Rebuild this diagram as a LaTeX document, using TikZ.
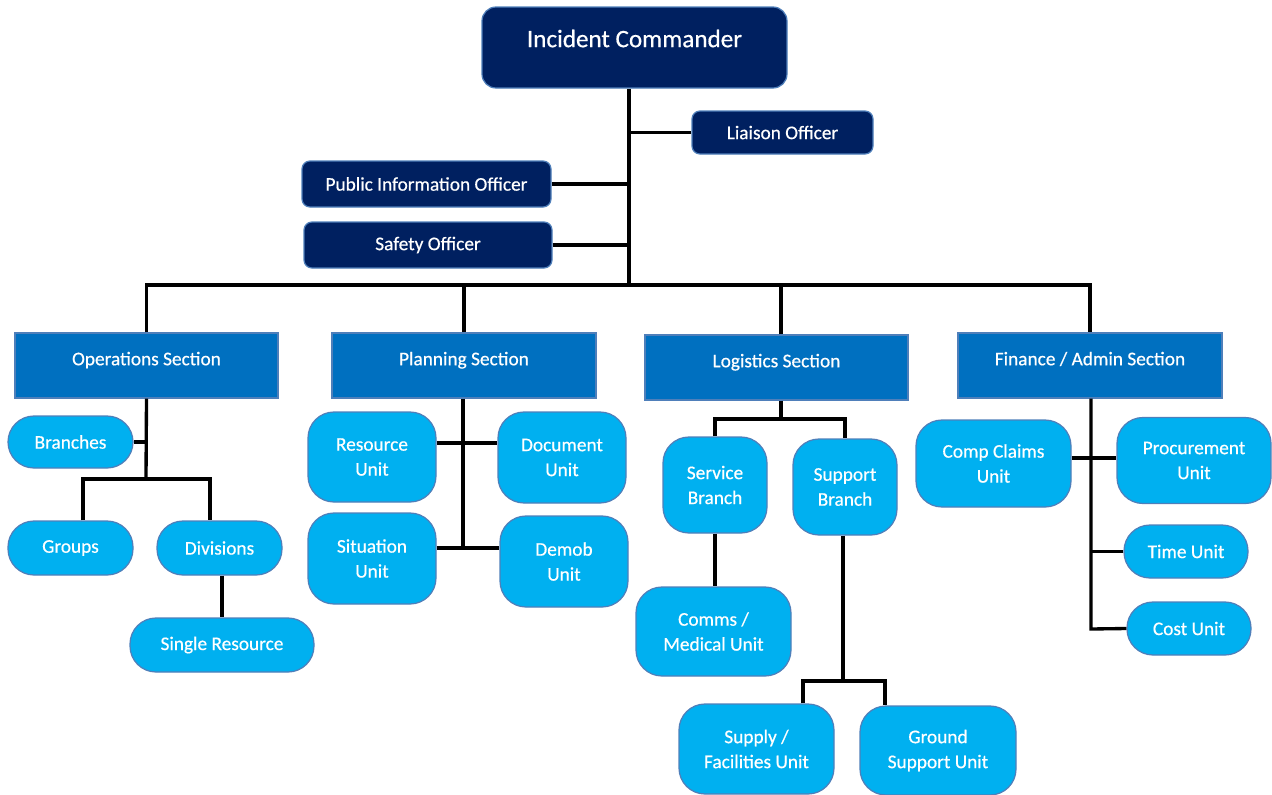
\documentclass[tikz,border=0pt]{standalone}
\usepackage{fontspec}
\setmainfont{Carlito}[FakeBold=0.5]
\definecolor{navy}{HTML}{002060}
\definecolor{secblue}{HTML}{0070C0}
\definecolor{unitblue}{HTML}{00B0F0}
\definecolor{edgecol}{HTML}{4F7FBA}
\begin{document}
\begin{tikzpicture}[x=0.02cm,y=-0.02cm,
  sz/.style 2 args={minimum width=#1*0.02cm, minimum height=#2*0.02cm},
  base/.style={inner sep=0pt, text=white, draw=edgecol, line width=0.7pt, align=center, font=\fontsize{11}{14.2}\selectfont},
  chief/.style={base, fill=navy, rounded corners=0.28cm, font=\fontsize{14.3}{17}\selectfont, text height=11pt, text depth=11.4pt},
  officer/.style={base, fill=navy, rounded corners=0.16cm},
  section/.style={base, fill=secblue, text height=8pt, text depth=8.3pt},
  unit/.style={base, fill=unitblue, rounded corners=0.52cm},
  link/.style={draw=black, line width=1.9pt}]
\useasboundingbox (0,0) rectangle (1272,795);

% nodes
\node[chief, sz={305}{81}] (ic) at (634.5,47.5) {Incident Commander};
\node[officer, sz={181}{43}] (liaison) at (782.5,132.5) {Liaison Officer};
\node[officer, sz={249}{46}] (pio) at (426.5,184) {Public Information Officer};
\node[officer, sz={248}{46}] (safety) at (428,245) {Safety Officer};

\node[section, sz={263}{65}] (ops) at (146.5,365.5) {Operations Section};
\node[section, sz={264}{65}] (plan) at (464,365.5) {Planning Section};
\node[section, sz={263}{65}] (log) at (776.5,367.5) {Logistics Section};
\node[section, sz={264}{65}] (fin) at (1090,365.5) {Finance / Admin Section};

\node[unit, sz={125}{52}] (branches) at (70.5,442) {Branches};
\node[unit, sz={125}{54}] (groups) at (70.5,548) {Groups};
\node[unit, sz={125}{54}] (divisions) at (219.5,548) {Divisions};
\node[unit, sz={184}{54}] (single) at (222,645) {Single Resource};

\node[unit, sz={128}{90}] (resource) at (372,457) {Resource\\Unit};
\node[unit, sz={128}{91}] (document) at (562,457.5) {Document\\Unit};
\node[unit, sz={128}{91}] (situation) at (372,558.5) {Situation\\Unit};
\node[unit, sz={128}{91}] (demob) at (564,561.5) {Demob\\Unit};

\node[unit, sz={104}{96}] (service) at (715,485) {Service\\Branch};
\node[unit, sz={104}{96}] (support) at (845,487) {Support\\Branch};
\node[unit, sz={155}{89}] (comms) at (713.5,631.5) {Comms /\\Medical Unit};
\node[unit, sz={155}{90}] (supply) at (756.5,749) {Supply /\\Facilities Unit};
\node[unit, sz={156}{89}] (ground) at (938,750.5) {Ground\\Support Unit};

\node[unit, sz={155}{87}] (comp) at (993.5,463.5) {Comp Claims\\Unit};
\node[unit, sz={154}{86}] (proc) at (1194,460.5) {Procurement\\Unit};
\node[unit, sz={124}{53}] (time) at (1186,551.5) {Time Unit};
\node[unit, sz={124}{53}] (cost) at (1189,628.5) {Cost Unit};

% junction coordinates
\coordinate (j0) at (629,285);
\coordinate (oj) at (146,479);
\coordinate (pj1) at (463,443);
\coordinate (pj2) at (463,548);
\coordinate (lj) at (781,419);
\coordinate (sj) at (843,681);
\coordinate (fj1) at (1091,458);
\coordinate (fj) at (1091,629);

% command staff
\draw[link] (ic.south -| j0) -- (j0);
\draw[link] (liaison.west) -- (liaison.west -| j0);
\draw[link] (pio.east) -- (pio.east -| j0);
\draw[link] (safety.east) -- (safety.east -| j0);
\draw[link] (ops.north) |- (j0) -| (fin.north);
\draw[link] (plan.north) -- (plan.north |- j0);
\draw[link] (lj |- log.north) -- (lj |- j0);

% operations
\draw[link] (ops.south) -- (oj);
\draw[link] (branches.east) -- (branches.east -| oj);
\draw[link] ([xshift=0.25cm]groups.north) |- (oj) -| ([xshift=-0.19cm]divisions.north);
\draw[link] (divisions.south -| single.north) -- (single.north);

% planning
\draw[link] (plan.south -| pj1) -- (pj2);
\draw[link] (resource.east |- pj1) -- (document.west |- pj1);
\draw[link] (situation.east |- pj2) -- (demob.west |- pj2);

% logistics
\draw[link] (lj |- log.south) -- (lj);
\draw[link] (service.north) |- (lj) -| (support.north);
\draw[link] (service.south) -- (service.south |- comms.north);
\draw[link] (support.south -| sj) -- (sj);
\draw[link] ([xshift=0.93cm]supply.north) |- (sj) -| ([xshift=-1.06cm]ground.north);

% finance
\draw[link] (fin.south -| fj) -- (fj) -- (cost.west);
\draw[link] (comp.east |- fj1) -- (proc.west |- fj1);
\draw[link] (time.west) -- (time.west -| fj);
\end{tikzpicture}
\end{document}
